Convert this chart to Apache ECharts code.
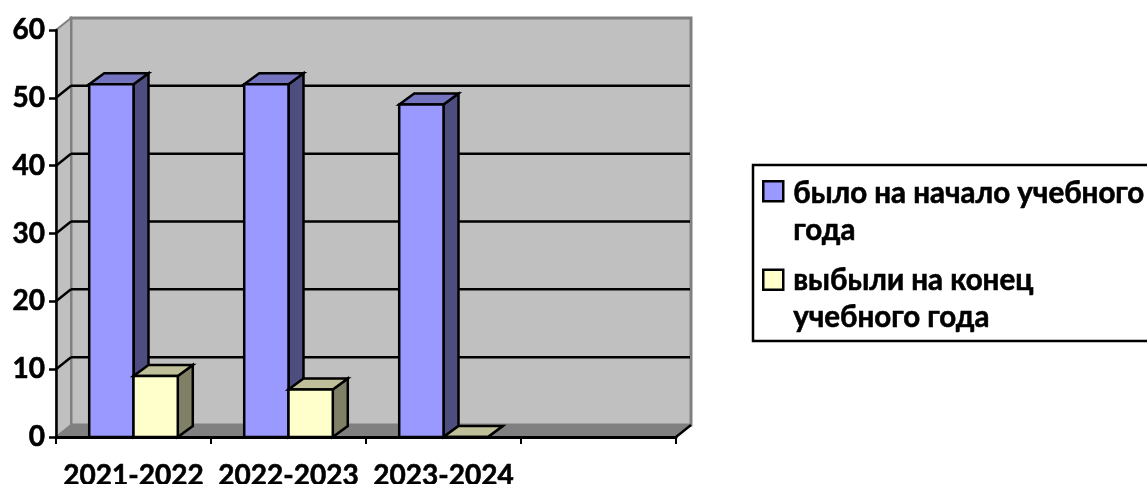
<!DOCTYPE html>
<html>
<head>
<meta charset="utf-8">
<script src="https://cdn.jsdelivr.net/npm/echarts@6/dist/echarts.min.js"></script>
<style>
html, body { margin: 0; padding: 0; background: #fff; }
#chart { width: 1147px; height: 484px; }
</style>
</head>
<body>
<div id="chart"></div>
<script>
'use strict';
const categories = ['2021-2022', '2022-2023', '2023-2024', ''];
const started = [52, 52, 49];
const leftBy = [9, 7, 0];
const yTicks = [10, 20, 30, 40, 50];
const seriesNames = ['было на начало учебного\nгода', 'выбыли на конец\nучебного года'];

const fontFamily = 'Lato, "Noto Sans", sans-serif';
const wallDepth = [15, -12];
const barDepth = [15, -11];
const barRatio = 1 / 3.5;

function poly(points, fill, stroke, lineWidth) {
    return {
        type: 'polygon',
        shape: { points: points },
        style: { fill: fill, stroke: stroke, lineWidth: lineWidth, lineJoin: 'miter' }
    };
}

function line(p1, p2, stroke, lineWidth) {
    return {
        type: 'line',
        shape: { x1: p1[0], y1: p1[1], x2: p2[0], y2: p2[1] },
        style: { stroke: stroke, lineWidth: lineWidth }
    };
}

// back wall, side wall, floor and the grid lines that run over them
function renderWalls(params, api) {
    const band = api.size([1, 0])[0];
    const first = api.coord([0, 0]);
    const x0 = first[0] - band / 2;
    const y0 = first[1];
    const x1 = x0 + band * categories.length;
    const yTop = api.coord([0, 60])[1];
    const [dx, dy] = wallDepth;
    const children = [
        poly([[x0 + dx, yTop + dy], [x1 + dx, yTop + dy], [x1 + dx, y0 + dy], [x0 + dx, y0 + dy]], '#c0c0c0', '#808080', 3),
        poly([[x0, yTop], [x0 + dx, yTop + dy], [x0 + dx, y0 + dy], [x0, y0]], '#c0c0c0', '#808080', 2),
        poly([[x0, y0], [x0 + dx, y0 + dy], [x1 + dx, y0 + dy], [x1, y0]], '#808080', '#808080', 1)
    ];
    yTicks.forEach(function (t) {
        const y = api.coord([0, t])[1];
        children.push(line([x0, y], [x0 + dx, y + dy], '#000', 2.5));
        children.push(line([x0 + dx, y + dy], [x1 + dx - 1, y + dy], '#000', 2.5));
    });
    children.push(line([x1, y0], [x1 + dx, y0 + dy], '#000', 2.5));
    return { type: 'group', children: children };
}

function barRenderer(slot, front, top, side) {
    return function (params, api) {
        const band = api.size([1, 0])[0];
        const w = band * barRatio;
        const c = api.coord([api.value(0), api.value(1)]);
        const base = api.coord([api.value(0), 0])[1];
        const xl = c[0] - w + slot * w;
        const xr = xl + w;
        const yt = c[1];
        const [dx, dy] = barDepth;
        return {
            type: 'group',
            children: [
                poly([[xr, yt], [xr + dx, yt + dy], [xr + dx, base + dy], [xr, base]], side, '#000', 2.5),
                poly([[xl, yt], [xl + dx, yt + dy], [xr + dx, yt + dy], [xr, yt]], top, '#000', 2.5),
                poly([[xl, yt], [xr, yt], [xr, base], [xl, base]], front, '#000', 2.5)
            ]
        };
    };
}

function toPoints(values) {
    return values.map(function (v, i) { return [i, v]; });
}

// Lato bold is a little lighter than the reference, so thicken it slightly
const boldText = {
    color: '#000',
    fontFamily: fontFamily,
    fontWeight: 'bold',
    textBorderColor: '#000',
    textBorderWidth: 0.6
};

const myChart = echarts.init(document.getElementById('chart'));
const option = {
    animation: false,
    backgroundColor: '#fff',
    textStyle: { fontFamily: fontFamily },
    grid: { left: 56, right: 471, top: 30, bottom: 47, outerBoundsMode: 'none' },
    legend: {
        orient: 'vertical',
        left: 753,
        top: 165,
        padding: [9, 40, 4, 9],
        itemGap: 10,
        itemWidth: 25,
        itemHeight: 74,
        borderColor: '#000',
        borderWidth: 2.5,
        backgroundColor: '#fff',
        selectedMode: false,
        textStyle: Object.assign({ fontSize: 29.5, lineHeight: 37 }, boldText),
        data: [
            {
                name: seriesNames[0],
                icon: 'path://M25,0L25,0M0,74L0,74M0,6H20V26H0Z',
                itemStyle: { color: '#9999ff', borderColor: '#000', borderWidth: 2.5 }
            },
            {
                name: seriesNames[1],
                icon: 'path://M25,0L25,0M0,74L0,74M0,8H20V28H0Z',
                itemStyle: { color: '#ffffcc', borderColor: '#000', borderWidth: 2.5 }
            }
        ]
    },
    xAxis: {
        type: 'category',
        data: categories,
        z: 5,
        axisLine: { lineStyle: { color: '#000', width: 3 } },
        axisTick: { show: true, length: 7, lineStyle: { color: '#000', width: 2 } },
        axisLabel: Object.assign({ interval: 0, margin: 25, fontSize: 28 }, boldText)
    },
    yAxis: {
        type: 'value',
        min: 0,
        max: 60,
        interval: 10,
        z: 5,
        splitLine: { show: false },
        axisLine: { show: true, lineStyle: { color: '#000', width: 2.5 } },
        axisTick: { show: true, length: 7, lineStyle: { color: '#000', width: 2.5 } },
        axisLabel: Object.assign({ margin: 11, fontSize: 28 }, boldText)
    },
    series: [
        {
            name: 'walls',
            type: 'custom',
            z: 1,
            silent: true,
            renderItem: renderWalls,
            data: [[0, 0]]
        },
        {
            name: seriesNames[0],
            type: 'custom',
            z: 3,
            itemStyle: { color: '#9999ff' },
            renderItem: barRenderer(0, '#9999ff', '#7373bf', '#4d4d80'),
            data: toPoints(started)
        },
        {
            name: seriesNames[1],
            type: 'custom',
            z: 4,
            itemStyle: { color: '#ffffcc' },
            renderItem: barRenderer(1, '#ffffcc', '#bfbf99', '#808066'),
            data: toPoints(leftBy)
        }
    ]
};
myChart.setOption(option);
</script>
</body>
</html>
